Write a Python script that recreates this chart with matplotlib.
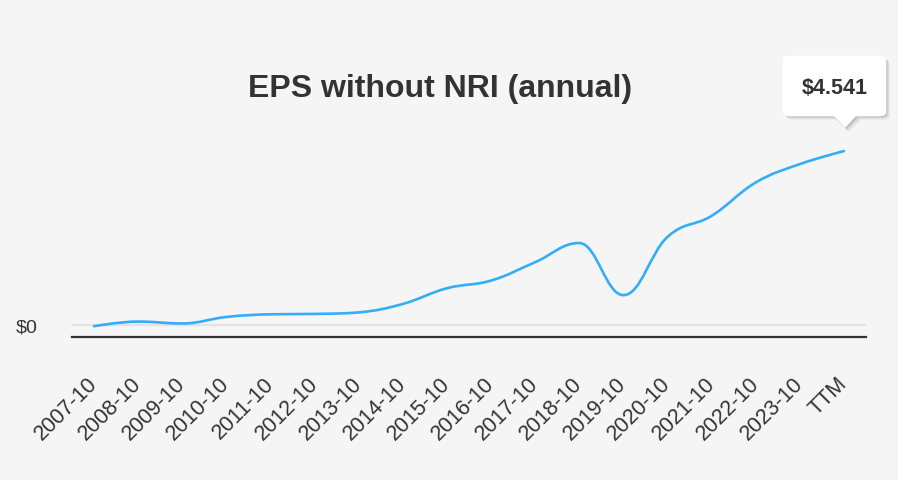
import matplotlib.pyplot as plt
import numpy as np
from matplotlib.path import Path
from matplotlib.patches import PathPatch, FancyBboxPatch, Polygon

labels = ['2007-10', '2008-10', '2009-10', '2010-10', '2011-10', '2012-10',
          '2013-10', '2014-10', '2015-10', '2016-10', '2017-10', '2018-10',
          '2019-10', '2020-10', '2021-10', '2022-10', '2023-10', 'TTM']
eps = [-0.03, 0.09, 0.04, 0.21, 0.28, 0.29, 0.33, 0.55, 0.96, 1.16,
       1.64, 2.14, 0.78, 2.30, 2.85, 3.72, 4.20, 4.541]

plt.rcParams['font.family'] = ['Liberation Sans', 'DejaVu Sans']
bg = '#f5f5f5'
txt = '#333333'


# highcharts-like spline as bezier path
def spline_path(xs, ys, smoothing=1.5):
    n = len(xs)
    d = smoothing + 1
    lc = [(xs[0], ys[0])] * n
    rc = [(xs[0], ys[0])] * n
    for i in range(n):
        px, py = xs[i], ys[i]
        if i == 0 or i == n - 1:
            lc[i] = (px, py)
            rc[i] = (px, py)
            continue
        lx, ly = xs[i - 1], ys[i - 1]
        nx, ny = xs[i + 1], ys[i + 1]
        lcx = (smoothing * px + lx) / d
        lcy = (smoothing * py + ly) / d
        rcx = (smoothing * px + nx) / d
        rcy = (smoothing * py + ny) / d
        if rcx != lcx:
            corr = (rcy - lcy) * (rcx - px) / (rcx - lcx) + py - rcy
            lcy += corr
            rcy += corr
        if lcy > ly and lcy > py:
            lcy = max(ly, py)
            rcy = 2 * py - lcy
        elif lcy < ly and lcy < py:
            lcy = min(ly, py)
            rcy = 2 * py - lcy
        if rcy > ny and rcy > py:
            rcy = max(ny, py)
            lcy = 2 * py - rcy
        elif rcy < ny and rcy < py:
            rcy = min(ny, py)
            lcy = 2 * py - rcy
        lc[i] = (lcx, lcy)
        rc[i] = (rcx, rcy)
    verts = [(xs[0], ys[0])]
    codes = [Path.MOVETO]
    for i in range(1, n):
        verts += [rc[i - 1], lc[i], (xs[i], ys[i])]
        codes += [Path.CURVE4] * 3
    return Path(verts, codes)


fig = plt.figure(figsize=(8.98, 4.81), dpi=100, facecolor=bg)
W, H = 898, 481
ax = fig.add_axes([72 / W, 1 - 338 / H, (866 - 72) / W, (338 - 100) / H])
ax.set_facecolor(bg)

x = np.arange(len(labels))
ax.set_xlim(-0.5, len(labels) - 0.5)
ax.set_ylim(-0.313, 5.90)

ax.axhline(0, color='#e3e3e3', lw=1.6, zorder=1)
ax.add_patch(PathPatch(spline_path(x, eps), fc='none', ec='#34adf7', lw=1.9,
                       capstyle='round', zorder=3))

for s in ['top', 'right', 'left']:
    ax.spines[s].set_visible(False)
ax.spines['bottom'].set_color(txt)
ax.spines['bottom'].set_linewidth(1.6)

ax.set_xticks(x)
ax.set_xticklabels(labels, rotation=45, ha='right', va='center',
                   rotation_mode='anchor', fontsize=15.5, color=txt)
ax.tick_params(axis='x', length=0, pad=31)
ax.set_yticks([0])
ax.set_yticklabels(['$0'], fontsize=14, color=txt)
ax.tick_params(axis='y', length=0, pad=25)

fig.text(440 / W, 1 - 89 / H, 'EPS without NRI (annual)', ha='center',
         va='center', fontsize=23, fontweight='bold', color=txt)

# tooltip
bx0, by0, bx1, by1 = 783, 57, 886, 117
tipx, tipy = 845, 129
for k, a in [(4, 0.04), (3, 0.05), (2, 0.07), (1, 0.09)]:
    fig.patches.append(FancyBboxPatch(((bx0 + k) / W, 1 - (by1 + k) / H),
                                      (bx1 - bx0) / W, (by1 - by0) / H,
                                      boxstyle='round,pad=0,rounding_size=0.008',
                                      transform=fig.transFigure, fc='black',
                                      ec='none', alpha=a))
    fig.patches.append(Polygon([((tipx - 12 + k) / W, 1 - (by1 + k) / H),
                                ((tipx + 12 + k) / W, 1 - (by1 + k) / H),
                                ((tipx + k) / W, 1 - (tipy + k) / H)],
                               closed=True, transform=fig.transFigure,
                               fc='black', ec='none', alpha=a))
fig.patches.append(FancyBboxPatch((bx0 / W, 1 - by1 / H), (bx1 - bx0) / W,
                                  (by1 - by0) / H,
                                  boxstyle='round,pad=0,rounding_size=0.008',
                                  transform=fig.transFigure, fc='white',
                                  ec='white', lw=0.5))
fig.patches.append(Polygon([((tipx - 12) / W, 1 - (by1 - 1) / H),
                            ((tipx + 12) / W, 1 - (by1 - 1) / H),
                            (tipx / W, 1 - tipy / H)], closed=True,
                           transform=fig.transFigure, fc='white', ec='none'))
fig.text((bx0 + bx1) / 2 / W, 1 - 89 / H, '$' + format(eps[-1], '.3f'),
         ha='center', va='center', fontsize=15.5, fontweight='bold', color=txt)

fig.savefig('out.png', dpi=100, facecolor=bg)
